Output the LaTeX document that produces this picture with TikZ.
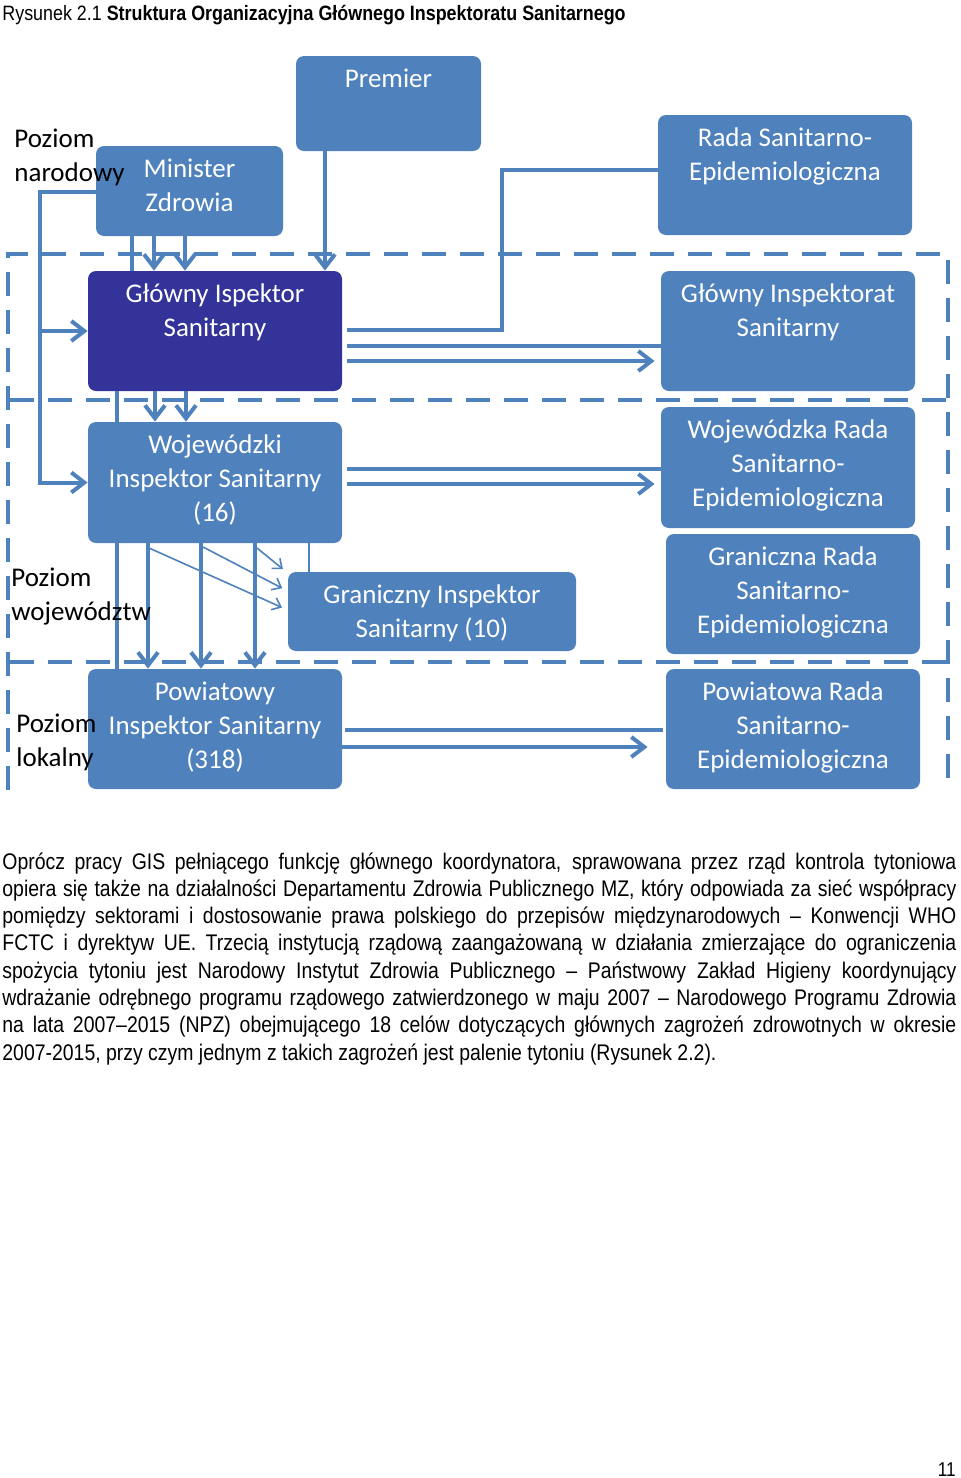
\documentclass[tikz,border=0pt]{standalone}
\usepackage{fontspec}
\setmainfont{Liberation Sans}[FakeStretch=0.86]
\newfontfamily\calibri{Carlito}
\usetikzlibrary{arrows.meta,positioning}
\definecolor{boxblue}{RGB}{79,129,189}
\definecolor{gisblue}{RGB}{51,51,153}
\newdimen\pxu \pxu=0.5pt
\newcommand{\inbox}[3]{\parbox[c][#2\pxu][t]{#1\pxu}{\centering\vspace*{3.6pt}\strut#3\par}}
\newcommand{\lvl}[1]{\parbox[t]{80pt}{\raggedright\strut#1}}

\begin{document}
\begin{tikzpicture}[x=0.5pt,y=-0.5pt,
	>={Straight Barb[length=6.5pt,width=10pt]},
	unit/.style={fill=boxblue,rounded corners=4pt,inner sep=0pt,text=white,font=\calibri\fontsize{13.5}{17}\selectfont},
	link/.style={color=boxblue,line width=2pt},
	feeder/.style={color=boxblue,line width=0.8pt,>={Straight Barb[length=4pt,width=6.5pt]}},
	level/.style={inner sep=0pt,anchor=base west,font=\calibri\fontsize{13.5}{17}\selectfont},
	frame/.style={draw=boxblue,line width=2pt,dash pattern=on 12pt off 7pt}]
	\useasboundingbox (0,0) rectangle (960,1478);
	\node[inner sep=0pt,anchor=base west,font=\fontsize{10.4}{12}\selectfont] (caption) at (2,20)
		{Rysunek 2.1 \textbf{Struktura Organizacyjna Głównego Inspektoratu Sanitarnego}};

	% poziomy
	\draw[frame] (8,790) -- (8,254) -- (948,254) -- (948,790);
	\draw[frame] (10,400) -- (948,400);
	\draw[frame] (10,662) -- (948,662);

	\node[unit] (premier) at (388.5,103.5) {\inbox{185}{95}{Premier}};
	\node[unit] (minister) at (189.5,191) {\inbox{187}{90}{Minister\\Zdrowia}};
	\node[unit] (rada) at (785,175) {\inbox{254}{120}{Rada Sanitarno-\\Epidemiologiczna}};
	\node[unit,fill=gisblue] (gis) at (215,331) {\inbox{254}{120}{Główny Ispektor\\Sanitarny}};
	\node[unit] (gi) at (788,331) {\inbox{254}{120}{Główny Inspektorat\\Sanitarny}};
	\node[unit] (wis) at (215,482.5) {\inbox{254}{121}{Wojewódzki\\Inspektor Sanitarny\\(16)}};
	\node[unit] (wrada) at (788,467.5) {\inbox{254}{121}{Wojewódzka Rada\\Sanitarno-\\Epidemiologiczna}};
	\node[unit] (gris) at (432,611.5) {\inbox{288}{79}{Graniczny Inspektor\\Sanitarny (10)}};
	\node[unit] (grrada) at (793,594) {\inbox{254}{120}{Graniczna Rada\\Sanitarno-\\Epidemiologiczna}};
	\node[unit] (pis) at (215,729) {\inbox{254}{120}{Powiatowy\\Inspektor Sanitarny\\(318)}};
	\node[unit] (prada) at (793,729) {\inbox{254}{120}{Powiatowa Rada\\Sanitarno-\\Epidemiologiczna}};

	% poziom narodowy
	\coordinate (rail) at (40,192);
	\draw[link,->] (minister.west |- rail) -- (rail) |- (wis.west);
	\draw[link,->] (rail |- gis.west) -- (gis.west);
	\draw[link] (minister.south -| 132,0) -- (gis.north -| 132,0);
	\path[link,->] (minister.south -| 154,0) edge (gis.north -| 154,0)
		(minister.south -| 185,0) edge (gis.north -| 185,0)
		(premier.south -| 325,0) edge (gis.north -| 325,0);
	\draw[link] (rada.west |- 0,170) -| (502,330) -- ([xshift=2.5pt]gis.east |- 0,330);
	\draw[link] ([xshift=2.5pt]gis.east |- 0,346) -- (gi.west |- 0,346);
	\draw[link,->,shorten >=3pt] ([xshift=2.5pt]gis.east |- 0,361) -- (gi.west |- 0,361);

	% poziom wojewodztw
	\draw[link] (gis.south -| 117,0) -- (wis.north -| 117,0);
	\path[link,->] (gis.south -| 155,0) edge (wis.north -| 155,0)
		(gis.south -| 186,0) edge (wis.north -| 186,0);
	\draw[link] ([xshift=2.5pt]wis.east |- 0,469) -- (wrada.west |- 0,469);
	\draw[link,->,shorten >=3pt] ([xshift=2.5pt]wis.east |- 0,484) -- (wrada.west |- 0,484);
	\draw[link] (wis.south -| 117,0) -- (pis.north -| 117,0);
	\path[link,->] (wis.south -| 148,0) edge (pis.north -| 148,0)
		(wis.south -| 201,0) edge (pis.north -| 201,0)
		(wis.south -| 255,0) edge (pis.north -| 255,0);
	\path[feeder,->,shorten >=3pt] (149,548) edge (gris.west |- 0,610)
		(203,547) edge (gris.west |- 0,591)
		(257,548) edge (gris.west |- 0,573);
	\draw[feeder] (wis.south -| 309,0) -- (gris.north -| 309,0);

	% poziom lokalny
	\draw[link] ([xshift=1.5pt]pis.east |- 0,730) -- ([xshift=-1.5pt]prada.west |- 0,730);
	\draw[link,->,shorten >=9pt] (pis.east |- 0,747) -- (prada.west |- 0,747);

	\node[level] (lnarod) at (14,147) {\lvl{Poziom\\narodowy}};
	\node[level] (lwoj) at (11,586) {\lvl{Poziom\\województw}};
	\node[level] (llok) at (16,732) {\lvl{Poziom\\lokalny}};

	\node[inner sep=0pt,anchor=base west,font=\fontsize{11.3}{13.65}\selectfont] (body) at (2,869)
		{\parbox[t]{477pt}{\hyphenpenalty=10000\emergencystretch=20pt
		Oprócz pracy GIS pełniącego funkcję głównego koordynatora, sprawowana przez rząd kontrola tytoniowa\linebreak
		opiera się także na działalności Departamentu Zdrowia Publicznego MZ, który odpowiada za sieć współpracy\linebreak
		pomiędzy sektorami i dostosowanie prawa polskiego do przepisów międzynarodowych – Konwencji WHO\linebreak
		FCTC i dyrektyw UE. Trzecią instytucją rządową zaangażowaną w działania zmierzające do ograniczenia\linebreak
		spożycia tytoniu jest Narodowy Instytut Zdrowia Publicznego – Państwowy Zakład Higieny koordynujący\linebreak
		wdrażanie odrębnego programu rządowego zatwierdzonego w maju 2007 – Narodowego Programu Zdrowia\linebreak
		na lata 2007–2015 (NPZ) obejmującego 18 celów dotyczących głównych zagrożeń zdrowotnych w okresie\linebreak
		2007-2015, przy czym jednym z takich zagrożeń jest palenie tytoniu (Rysunek 2.2).}};
	\node[inner sep=0pt,anchor=base east,font=\fontsize{10}{12}\selectfont] (pagenum) at (956,1476) {11};
\end{tikzpicture}
\end{document}
